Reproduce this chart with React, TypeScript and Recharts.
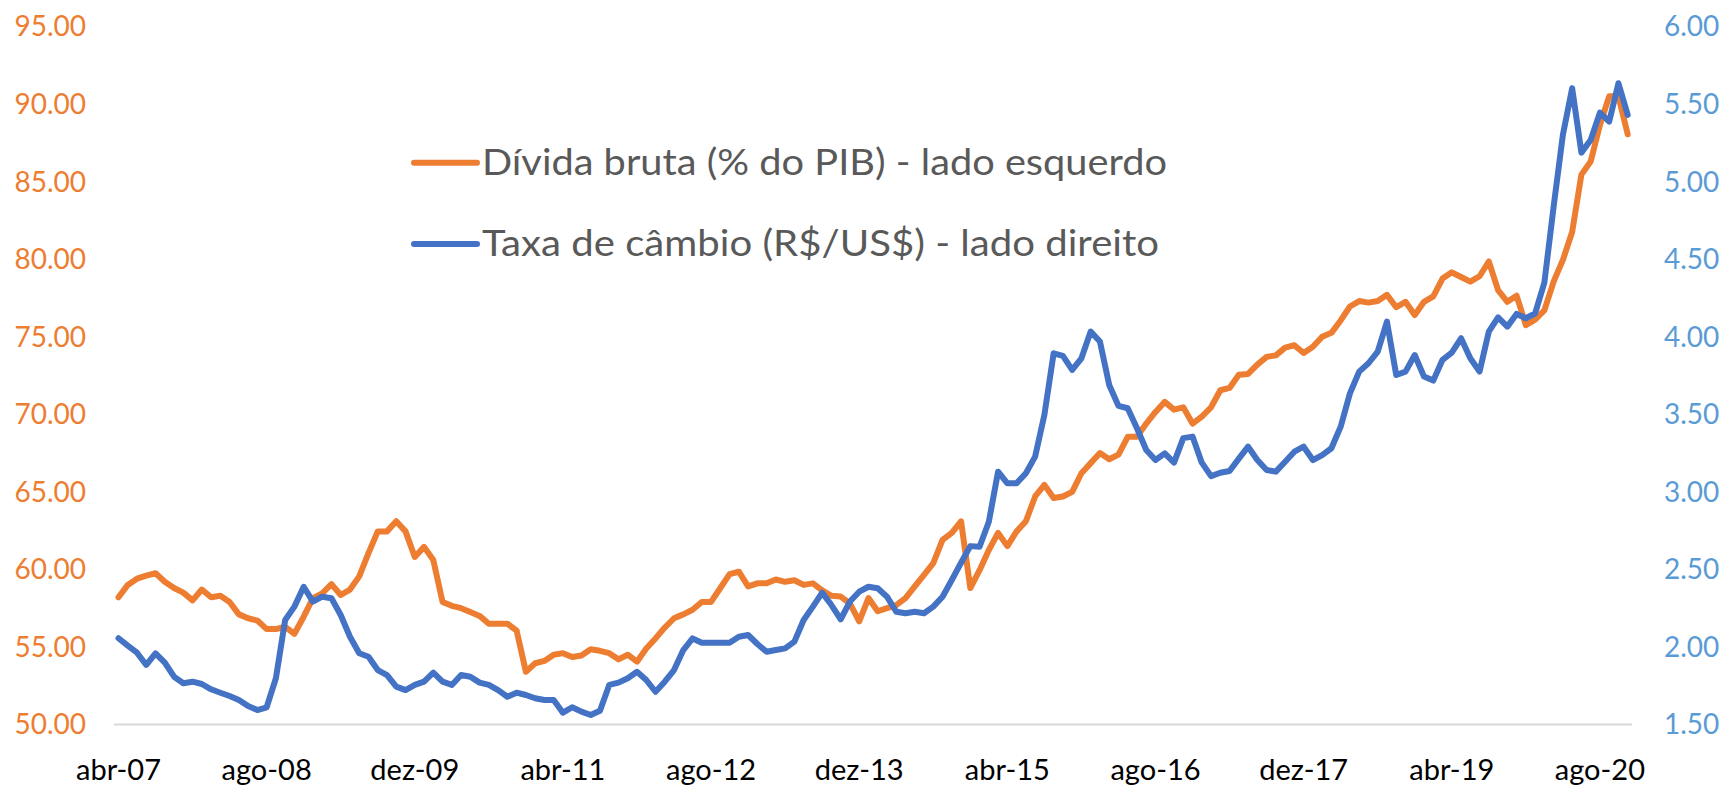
import React from 'react';
import { LineChart, Line, XAxis, YAxis, Legend } from 'recharts';

// Month names (pt-BR) used to build the monthly categories abr-07 ... nov-20
const monthNames = ['jan', 'fev', 'mar', 'abr', 'mai', 'jun', 'jul', 'ago', 'set', 'out', 'nov', 'dez'];
const startYear = 2007;
const startMonthIndex = 3; // abril

// Dívida bruta (% do PIB) - lado esquerdo
const debtSeries = [
  58.2, 59.0, 59.4, 59.6, 59.75, 59.2, 58.8, 58.5, 58.0, 58.7,
  58.2, 58.3, 57.9, 57.1, 56.85, 56.7, 56.15, 56.15, 56.3, 55.85,
  56.95, 58.15, 58.45, 59.05, 58.35, 58.7, 59.55, 61.05, 62.45, 62.45,
  63.1, 62.45, 60.8, 61.45, 60.6, 57.9, 57.65, 57.5, 57.25, 57.0,
  56.5, 56.5, 56.5, 56.05, 53.4, 53.95, 54.1, 54.5, 54.6, 54.35,
  54.45, 54.85, 54.75, 54.6, 54.2, 54.5, 54.05, 54.9, 55.55, 56.25,
  56.85, 57.1, 57.4, 57.9, 57.9, 58.8, 59.7, 59.85, 58.9, 59.1,
  59.1, 59.35, 59.2, 59.3, 59.0, 59.1, 58.65, 58.3, 58.25, 57.8,
  56.65, 58.15, 57.3, 57.5, 57.7, 58.15, 58.9, 59.65, 60.4, 61.9,
  62.35, 63.1, 58.8, 59.95, 61.25, 62.35, 61.5, 62.45, 63.1, 64.7,
  65.45, 64.6, 64.7, 65.0, 66.2, 66.85, 67.5, 67.1, 67.4, 68.55,
  68.55, 69.4, 70.15, 70.8, 70.3, 70.45, 69.4, 69.85, 70.45, 71.55,
  71.7, 72.55, 72.6, 73.2, 73.7, 73.8, 74.3, 74.45, 73.95, 74.35,
  75.0, 75.25, 76.05, 76.95, 77.3, 77.2, 77.3, 77.7, 76.9, 77.25,
  76.4, 77.25, 77.6, 78.75, 79.15, 78.85, 78.55, 78.9, 79.85, 78.0,
  77.25, 77.65, 75.75, 76.1, 76.7, 78.55, 79.95, 81.75, 85.45, 86.3,
  88.65, 90.5, 90.5, 88.05,
];

// Taxa de câmbio (R$/US$) - lado direito
const fxSeries = [
  2.056, 2.008, 1.963, 1.884, 1.959, 1.899, 1.808, 1.766, 1.776, 1.761,
  1.727, 1.705, 1.684, 1.658, 1.619, 1.593, 1.611, 1.798, 2.174, 2.26,
  2.388, 2.292, 2.324, 2.314, 2.206, 2.066, 1.959, 1.937, 1.851, 1.819,
  1.744, 1.722, 1.755, 1.776, 1.834, 1.776, 1.755, 1.819, 1.808, 1.77,
  1.755, 1.722, 1.679, 1.705, 1.69, 1.669, 1.658, 1.658, 1.576, 1.611,
  1.583, 1.561, 1.589, 1.755, 1.77, 1.798, 1.84, 1.787, 1.711, 1.776,
  1.851, 1.98, 2.055, 2.027, 2.027, 2.027, 2.027, 2.066, 2.077, 2.019,
  1.969, 1.98, 1.991, 2.034, 2.174, 2.26, 2.35, 2.27, 2.178, 2.293,
  2.356, 2.388, 2.378, 2.324, 2.227, 2.217, 2.227, 2.217, 2.26, 2.324,
  2.432, 2.543, 2.65, 2.646, 2.807, 3.13, 3.055, 3.055, 3.12, 3.227,
  3.496, 3.893, 3.876, 3.786, 3.861, 4.033, 3.969, 3.689, 3.554, 3.539,
  3.41, 3.27, 3.205, 3.248, 3.188, 3.346, 3.356, 3.188, 3.101, 3.123,
  3.134, 3.214, 3.291, 3.205, 3.141, 3.13, 3.194, 3.259, 3.291, 3.205,
  3.237, 3.281, 3.42, 3.635, 3.775, 3.829, 3.904, 4.097, 3.753, 3.775,
  3.882, 3.743, 3.717, 3.851, 3.898, 3.99, 3.861, 3.775, 4.033, 4.125,
  4.065, 4.147, 4.119, 4.151, 4.349, 4.839, 5.301, 5.602, 5.187, 5.268,
  5.445, 5.387, 5.634, 5.43,
];

const xTickLabels = ['abr-07', 'ago-08', 'dez-09', 'abr-11', 'ago-12', 'dez-13', 'abr-15', 'ago-16', 'dez-17', 'abr-19', 'ago-20'];
const leftTicks = [50, 55, 60, 65, 70, 75, 80, 85, 90, 95];
const rightTicks = [1.5, 2.0, 2.5, 3.0, 3.5, 4.0, 4.5, 5.0, 5.5, 6.0];

const debtName = 'Dívida bruta (% do PIB) - lado esquerdo';
const fxName = 'Taxa de câmbio (R$/US$) - lado direito';

const categories = debtSeries.map((_, i) => {
  const t = startMonthIndex + i;
  const year = startYear + Math.floor(t / 12);
  return `${monthNames[t % 12]}-${String(year % 100).padStart(2, '0')}`;
});

const data = categories.map((month, i) => ({
  month,
  debt: debtSeries[i],
  fx: fxSeries[i],
}));

const W = 1727;
const H = 788;
const FONT = 'Lato, "Open Sans", sans-serif';

const legendTextWidths = [685, 677];

const LegendContent = (props: any) => {
  const payload = props.payload || [];
  return (
    <svg width={W} height={H} style={{ position: 'absolute', left: 0, top: 0, overflow: 'visible' }}>
      {payload.map((p: any, i: number) => {
        const cy = 162.7 + i * 81.3;
        return (
          <g key={i}>
            <line x1={414} x2={477} y1={cy} y2={cy} stroke={p.color} strokeWidth={6} strokeLinecap="round" />
            <text
              x={482}
              y={cy + 12.3}
              fontFamily={FONT}
              fontSize={37}
              fill="#595959"
              textLength={legendTextWidths[i]}
              lengthAdjust="spacingAndGlyphs"
            >
              {p.value}
            </text>
          </g>
        );
      })}
    </svg>
  );
};

export default function App() {
  return (
    <div style={{ position: 'absolute', left: 0, top: 0, width: W, height: H, background: '#fff' }}>
      <LineChart width={W} height={H} data={data} margin={{ top: 26.5, right: 0, bottom: 0, left: 0 }}>
        <XAxis
          dataKey="month"
          ticks={xTickLabels}
          interval={0}
          tickLine={false}
          tickSize={0}
          tickMargin={34.5}
          axisLine={{ stroke: '#D9D9D9', strokeWidth: 2 }}
          padding={{ left: 4.5, right: 4.3 }}
          height={63.5}
          tick={{ fill: '#000000', fontSize: 29, fontFamily: FONT }}
        />
        <YAxis
          yAxisId="left"
          orientation="left"
          domain={[50, 95]}
          ticks={leftTicks}
          width={114}
          axisLine={false}
          tickLine={false}
          tickSize={0}
          tickMargin={28}
          allowDataOverflow
          tickFormatter={(v: number) => v.toFixed(2)}
          tick={{ fill: '#ED7D31', fontSize: 28, fontFamily: FONT }}
        />
        <YAxis
          yAxisId="right"
          orientation="right"
          domain={[1.5, 6]}
          ticks={rightTicks}
          width={95}
          axisLine={false}
          tickLine={false}
          tickSize={0}
          tickMargin={32}
          allowDataOverflow
          tickFormatter={(v: number) => v.toFixed(2)}
          tick={{ fill: '#5B9BD5', fontSize: 28, fontFamily: FONT }}
        />
        <Legend
          layout="vertical"
          align="center"
          verticalAlign="middle"
          content={LegendContent}
          wrapperStyle={{ left: 0, top: 0, width: W, height: H, pointerEvents: 'none' }}
        />
        <Line
          yAxisId="left"
          type="linear"
          dataKey="debt"
          name={debtName}
          stroke="#ED7D31"
          strokeWidth={6}
          strokeLinejoin="round"
          strokeLinecap="round"
          dot={false}
          activeDot={false}
          isAnimationActive={false}
        />
        <Line
          yAxisId="right"
          type="linear"
          dataKey="fx"
          name={fxName}
          stroke="#4472C4"
          strokeWidth={6}
          strokeLinejoin="round"
          strokeLinecap="round"
          dot={false}
          activeDot={false}
          isAnimationActive={false}
        />
      </LineChart>
    </div>
  );
}
